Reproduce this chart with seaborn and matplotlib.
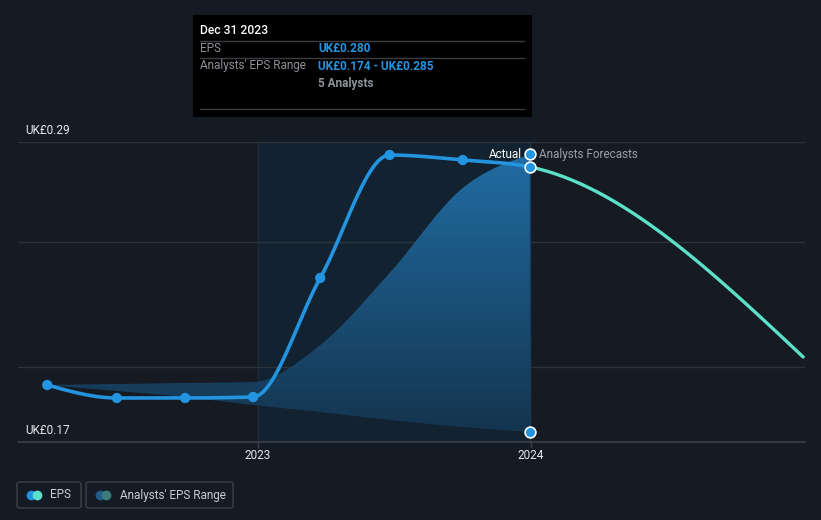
import numpy as np
import pandas as pd
import matplotlib
matplotlib.use("Agg")
import matplotlib.pyplot as plt
import seaborn as sns
from matplotlib.patches import Rectangle, FancyBboxPatch
from matplotlib.lines import Line2D
from matplotlib.colors import LinearSegmentedColormap
import matplotlib.transforms as mtrans

# ---------------- data ----------------
actual_dates = [2022.228, 2022.483, 2022.733, 2022.982, 2023.228, 2023.482, 2023.75, 2023.997]
eps_actual = [0.1928, 0.1876, 0.1876, 0.1880, 0.2356, 0.2848, 0.2828, 0.2800]
forecast_dates = [2024.997]
eps_forecast = [0.2040]
range_low = [0.1928, 0.1904, 0.1880, 0.1848, 0.1820, 0.1788, 0.1760, 0.1740]
range_high = [0.1928, 0.1932, 0.1936, 0.1940, 0.2088, 0.2376, 0.2716, 0.2850]
x_ticks = [2023, 2024]
x_tick_labels = ["2023", "2024"]
y_labels = {0.29: "UK£0.29", 0.17: "UK£0.17"}
grid_values = [0.20, 0.25, 0.29]

BG = "#151b25"
LEFT = "#151a23"
HIGHLIGHT = "#122230"
BLUE = "#2394df"
TEAL = "#5ce1c8"
GRID = "#2c323a"
W, H = 821, 520


def monotone_x(xs, ys, n=60):
    """d3 curveMonotoneX style interpolation (rendering of a line)."""
    xs = np.asarray(xs, float)
    ys = np.asarray(ys, float)
    if len(xs) < 3:
        return xs, ys
    h = np.diff(xs)
    s = np.diff(ys) / h
    t = np.zeros(len(xs))
    for i in range(1, len(xs) - 1):
        s0, s1 = s[i - 1], s[i]
        p = (s0 * h[i] + s1 * h[i - 1]) / (h[i - 1] + h[i])
        t[i] = (np.sign(s0) + np.sign(s1)) * min(abs(s0), abs(s1), 0.5 * abs(p))
    t[0] = (3 * s[0] - t[1]) / 2
    t[-1] = (3 * s[-1] - t[-2]) / 2
    ox, oy = [], []
    for i in range(len(xs) - 1):
        u = np.linspace(0, 1, n, endpoint=(i == len(xs) - 2))
        x0, x1, y0, y1 = xs[i], xs[i + 1], ys[i], ys[i + 1]
        dx = x1 - x0
        h00 = 2 * u**3 - 3 * u**2 + 1
        h10 = u**3 - 2 * u**2 + u
        h01 = -2 * u**3 + 3 * u**2
        h11 = u**3 - u**2
        ox.append(x0 + u * dx)
        oy.append(h00 * y0 + h10 * dx * t[i] + h01 * y1 + h11 * dx * t[i + 1])
    return np.concatenate(ox), np.concatenate(oy)


sns.set_theme(style="dark")
plt.rcParams["font.family"] = ["Roboto", "DejaVu Sans"]

fig = plt.figure(figsize=(W / 100, H / 100), dpi=100, facecolor=BG)

def fx(px):
    return px / W

def fy(py):
    return 1 - py / H

ax = fig.add_axes([fx(18), fy(442), (805 - 18) / W, 300 / H])
ax.set_facecolor(LEFT)
x0_lim = 2023 + (18 - 258) / 273
x1_lim = 2023 + (805 - 258) / 273
ax.set_xlim(x0_lim, x1_lim)
ax.set_ylim(0.17, 0.29)
for sp in ax.spines.values():
    sp.set_visible(False)
ax.grid(False)

# highlight region (past year)
ax.axvspan(2023, actual_dates[-1], color=HIGHLIGHT, zorder=0, lw=0)
ax.axvline(2023, color="#1b2c3b", lw=1, zorder=0.5)

# grid lines
for g in grid_values:
    ax.axhline(g, color=GRID, lw=1, zorder=0.6)
ax.axhline(0.17, color="#3b4048", lw=1.2, zorder=5, clip_on=False)

# analysts range band with gradient
bx, bl = monotone_x(actual_dates, range_low)
_, bh = monotone_x(actual_dates, range_high)
poly = ax.fill_between(bx, bl, bh, color="none", lw=0)
cmap = LinearSegmentedColormap.from_list("band", [(21 / 255, 52 / 255, 78 / 255), (34 / 255, 116 / 255, 174 / 255)])
grad = np.linspace(0, 1, 256).reshape(-1, 1)
im = ax.imshow(grad, cmap=cmap, origin="lower", aspect="auto",
               extent=[x0_lim, x1_lim, 0.17, 0.29], zorder=1, alpha=0.95)
im.set_clip_path(poly.get_paths()[0], transform=ax.transData)
ax.axvline(actual_dates[-1], color="#1d3a52", lw=1, zorder=1.2)

# EPS line: actual + forecast, same smooth curve
all_dates = actual_dates + forecast_dates
all_eps = eps_actual + eps_forecast
cx, cy = monotone_x(all_dates, all_eps, n=80)
split = actual_dates[-1]
df_act = pd.DataFrame({"x": cx[cx <= split + 1e-9], "y": cy[cx <= split + 1e-9]})
df_fc = pd.DataFrame({"x": cx[cx >= split - 1e-9], "y": cy[cx >= split - 1e-9]})
sns.lineplot(data=df_fc, x="x", y="y", ax=ax, color=TEAL, lw=2.4, zorder=3, sort=False, estimator=None)
sns.lineplot(data=df_act, x="x", y="y", ax=ax, color=BLUE, lw=2.6, zorder=4, sort=False, estimator=None)
pts = pd.DataFrame({"x": actual_dates[:-1], "y": eps_actual[:-1]})
sns.scatterplot(data=pts, x="x", y="y", ax=ax, color=BLUE, s=55, edgecolor="none", zorder=6)
ax.scatter([actual_dates[-1]], [eps_actual[-1]], s=60, color=BLUE, edgecolor="white", lw=1.2, zorder=7, clip_on=False)
ax.scatter([actual_dates[-1]], [range_low[-1]], s=60, color=BLUE, edgecolor="white", lw=1.2, zorder=7, clip_on=False)

# Actual / Analysts Forecasts labels
blend = mtrans.blended_transform_factory(ax.transData, ax.transAxes)
ay = (442 - 154) / 300
ax.scatter([actual_dates[-1]], [ay], transform=blend, s=60, color=BLUE, edgecolor="white", lw=1.2, zorder=7, clip_on=False)
fig.text(fx(522), fy(154), "Actual", color="white", fontsize=8.5, ha="right", va="center")
fig.text(fx(539), fy(154), "Analysts Forecasts", color="#9aa0a8", fontsize=8.5, ha="left", va="center")

ax.set_xlabel("")
ax.set_ylabel("")
ax.set_xticks([])
ax.set_yticks([])

# x tick labels
for xt, lab in zip(x_ticks, x_tick_labels):
    ax.plot([xt, xt], [0, -0.017], transform=blend, color="#3b4048", lw=1, clip_on=False, zorder=5)
    ax.text(xt, -0.045, lab, transform=blend, color="#e6e8ea", fontsize=8.5, ha="center", va="center")

# y labels
for v, lab in y_labels.items():
    ypx = 442 - (v - 0.17) / 0.12 * 300
    fig.text(fx(25), fy(ypx - 12), lab, color="#e6e8ea", fontsize=8.5, ha="left", va="center")

# tooltip
fig.patches.append(Rectangle((fx(193), fy(117)), (532 - 193) / W, (117 - 15) / H,
                             transform=fig.transFigure, facecolor="black", edgecolor="none", zorder=10))
for ly in [41, 58, 109]:
    fig.add_artist(Line2D([fx(200), fx(524)], [fy(ly), fy(ly)], transform=fig.transFigure,
                          color="#3a3d42", lw=1, zorder=11))
fig.text(fx(200), fy(31), "Dec 31 2023", color="white", fontsize=8.7, fontweight="medium", ha="left", va="center", zorder=12)
fig.text(fx(200), fy(49), "EPS", color="#8d9197", fontsize=8.5, ha="left", va="center", zorder=12)
fig.text(fx(318), fy(49), "UK£0.280", color=BLUE, fontsize=8.5, fontweight="bold", ha="left", va="center", zorder=12)
fig.text(fx(200), fy(66), "Analysts' EPS Range", color="#8d9197", fontsize=8.5, ha="left", va="center", zorder=12)
fig.text(fx(318), fy(66), "UK£0.174 - UK£0.285", color=BLUE, fontsize=8.5, fontweight="bold", ha="left", va="center", zorder=12)
fig.text(fx(318), fy(83), "5 Analysts", color="#8d9197", fontsize=8.5, fontweight="bold", ha="left", va="center", zorder=12)

# legend
def legend_box(x0, x1, c1, c2, label, tx):
    fig.patches.append(FancyBboxPatch((fx(x0), fy(508)), (x1 - x0) / W, 26 / H,
                                      boxstyle="round,pad=0,rounding_size=0.004",
                                      transform=fig.transFigure, facecolor="none",
                                      edgecolor="#3c424a", lw=1))
    fig.add_artist(Line2D([fx(x0 + 14)], [fy(495)], transform=fig.transFigure, marker="o",
                          markersize=7, color=c1, markeredgewidth=0, linestyle="none"))
    fig.add_artist(Line2D([fx(x0 + 20)], [fy(495)], transform=fig.transFigure, marker="o",
                          markersize=7, color=c2, markeredgewidth=0, linestyle="none"))
    fig.text(fx(tx), fy(495), label, color="#c9ccd0", fontsize=8.5, ha="left", va="center")

legend_box(17, 81, BLUE, TEAL, "EPS", 50)
legend_box(86, 233, "#235c8a", "#3b7d7a", "Analysts' EPS Range", 120)

fig.savefig("out.png", dpi=100, facecolor=BG)
